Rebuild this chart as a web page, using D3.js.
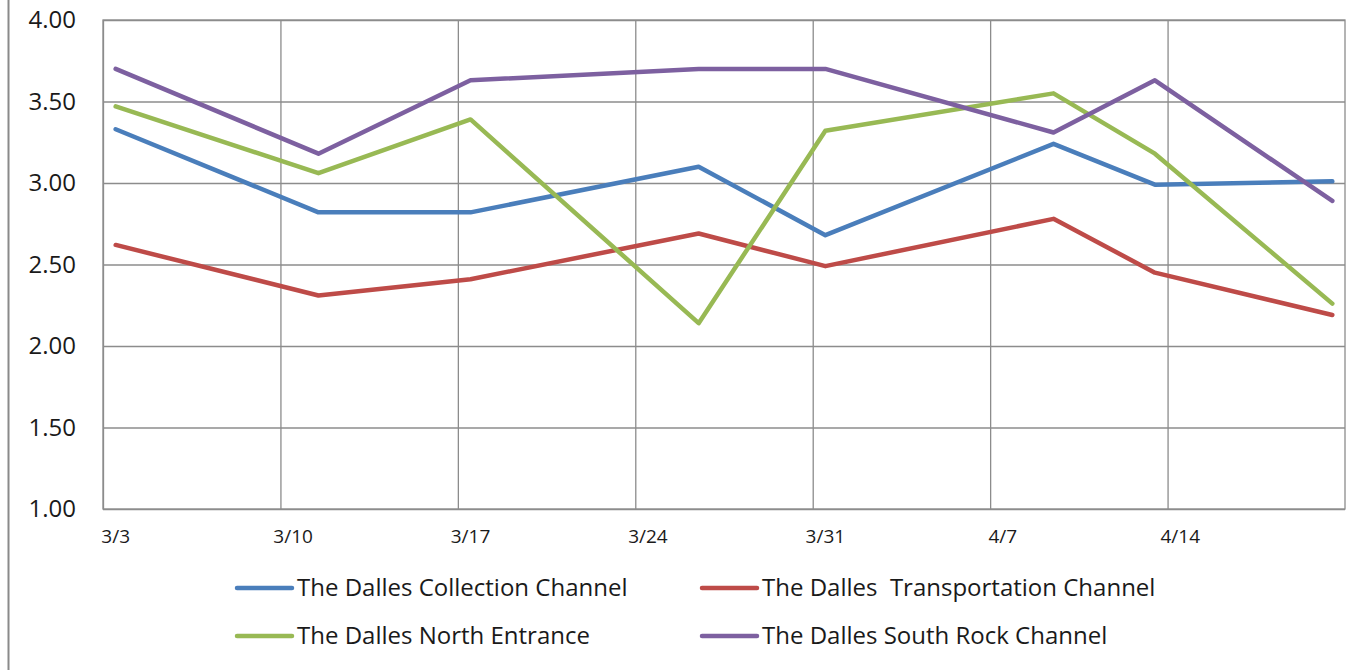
<!DOCTYPE html>
<html>
<head>
<meta charset="utf-8">
<script src="https://cdn.jsdelivr.net/npm/d3@7"></script>
<style>
  body { margin: 0; background: #fff; }
  svg { display: block; }
</style>
</head>
<body>
<div id="plot_area"></div>
<script>
// data
var dates = ["2014-03-03", "2014-03-11", "2014-03-17", "2014-03-26", "2014-03-31", "2014-04-09", "2014-04-13", "2014-04-20"];
var collection = [3.33, 2.82, 2.82, 3.10, 2.68, 3.24, 2.99, 3.01];
var transportation = [2.62, 2.31, 2.41, 2.69, 2.49, 2.78, 2.45, 2.19];
var northEntrance = [3.47, 3.06, 3.39, 2.14, 3.32, 3.55, 3.18, 2.26];
var southRock = [3.70, 3.18, 3.63, 3.70, 3.70, 3.31, 3.63, 2.89];
var seriesNames = ["The Dalles Collection Channel", "The Dalles  Transportation Channel", "The Dalles North Entrance", "The Dalles South Rock Channel"];
var yTicks = [1.00, 1.50, 2.00, 2.50, 3.00, 3.50, 4.00];
var xStart = "2014-03-03", xEnd = "2014-04-21";

var colors = ["#4A7EBB", "#BE4B48", "#98B954", "#7D60A0"];
var allSeries = [collection, transportation, northEntrance, southRock];

var W = 1353, H = 670;
var margin = {top: 20, right: 8, bottom: 161, left: 103};
var width = 1345 - margin.left,
    height = 509 - margin.top;

var parse = d3.timeParse("%Y-%m-%d");
var fmt = d3.timeFormat("%-m/%-d");

var svg = d3.select("#plot_area").append("svg")
  .attr("width", W).attr("height", H);

// outer left border of the frame
svg.append("line")
  .attr("x1", 8.5).attr("x2", 8.5).attr("y1", 0).attr("y2", H)
  .attr("stroke", "#8a8a8a").attr("stroke-width", 2);

var g = svg.append("g")
  .attr("transform", "translate(" + margin.left + "," + margin.top + ")");

var x = d3.scaleTime()
  .domain([parse(xStart), parse(xEnd)])
  .range([0, width]);

var y = d3.scaleLinear()
  .domain([1, 4])
  .range([height, 0]);

var halfDay = 12 * 3600 * 1000;
var weekTicks = d3.timeDay.range(parse(xStart), parse(xEnd), 7);

// gridlines
g.append("g")
  .call(d3.axisLeft(y).tickValues(yTicks).tickSize(-width).tickFormat(""))
  .call(function(s) { s.select(".domain").remove(); })
  .selectAll("line").attr("stroke", "#8c8c8c").attr("stroke-width", 1.3);

g.append("g")
  .attr("transform", "translate(0," + height + ")")
  .call(d3.axisBottom(x).tickValues(weekTicks).tickSize(-height).tickFormat(""))
  .call(function(s) { s.select(".domain").remove(); })
  .selectAll("line").attr("stroke", "#8c8c8c").attr("stroke-width", 1.3);

// plot area border
g.append("rect")
  .attr("x", 0).attr("y", 0).attr("width", width).attr("height", height)
  .attr("fill", "none").attr("stroke", "#8c8c8c").attr("stroke-width", 1.3);

// y labels
g.append("g")
  .call(d3.axisLeft(y).tickValues(yTicks).tickSize(0).tickPadding(27).tickFormat(d3.format(".2f")))
  .call(function(s) { s.select(".domain").remove(); })
  .selectAll("text")
  .style("font-family", "'Open Sans', sans-serif")
  .style("font-size", "24px")
  .attr("fill", "#1a1a1a");

// x labels, centred in the day slot like Excel's date axis
g.append("g")
  .attr("transform", "translate(0," + height + ")")
  .selectAll("text")
  .data(weekTicks)
  .enter().append("text")
  .attr("x", function(d) { return x(new Date(+d + halfDay)); })
  .attr("y", 34)
  .attr("text-anchor", "middle")
  .style("font-family", "'Open Sans', sans-serif")
  .style("font-size", "19px")
  .attr("fill", "#1a1a1a")
  .text(fmt);

// lines
var line = d3.line()
  .x(function(d, i) { return x(new Date(+parse(dates[i]) + halfDay)); })
  .y(function(d) { return y(d); });

allSeries.forEach(function(s, i) {
  g.append("path")
    .datum(s)
    .attr("fill", "none")
    .attr("stroke", colors[i])
    .attr("stroke-width", 4.5)
    .attr("stroke-linejoin", "round")
    .attr("stroke-linecap", "round")
    .attr("d", line);
});

// legend
var legendPos = [[235, 588], [700, 588], [235, 636], [700, 636]];
seriesNames.forEach(function(name, i) {
  var lg = svg.append("g").attr("transform", "translate(" + legendPos[i][0] + "," + legendPos[i][1] + ")");
  lg.append("line")
    .attr("x1", 2).attr("x2", 57).attr("y1", 0).attr("y2", 0)
    .attr("stroke", colors[i]).attr("stroke-width", 4.5).attr("stroke-linecap", "round");
  lg.append("text")
    .attr("x", 62).attr("y", 8)
    .style("font-family", "'Open Sans', sans-serif")
    .style("font-size", "24px")
    .attr("fill", "#1a1a1a")
    .style("white-space", "pre")
    .text(name);
});
</script>
</body>
</html>
